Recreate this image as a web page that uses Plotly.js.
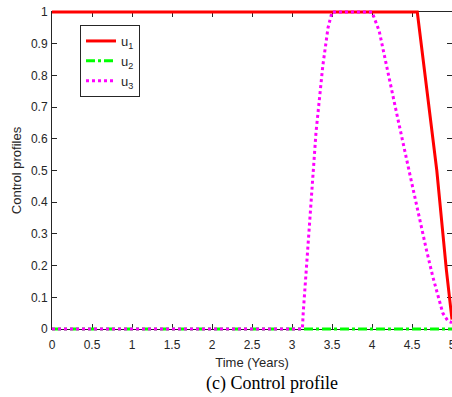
<!DOCTYPE html>
<html>
<head>
<meta charset="utf-8">
<script src="https://cdn.plot.ly/plotly-3.0.1.min.js"></script>
<style>
html,body{margin:0;padding:0;overflow:hidden;background:#fff;}
#chart{width:454px;height:397px;}
</style>
</head>
<body>
<div id="chart"></div>
<script>
// Data
const tU1 = [0, 4.566, 4.81, 4.93, 5];
const u1  = [1, 1, 0.50, 0.186, 0.03];
const tU2 = [0, 5];
const u2  = [0, 0];
const tU3 = [0, 3.13, 3.14, 3.21, 3.30, 3.385, 3.45, 3.5, 4.0, 4.09, 4.22, 4.30, 4.48, 4.59, 4.68, 4.76, 4.885, 4.95, 5];
const u3  = [0, 0, 0.05, 0.30, 0.62, 0.83, 0.95, 1, 1, 0.94, 0.78, 0.69, 0.48, 0.35, 0.25, 0.165, 0.05, 0.025, 0.02];
const xTickVals = [0, 0.5, 1, 1.5, 2, 2.5, 3, 3.5, 4, 4.5, 5];
const xTickText = ['0','0.5','1','1.5','2','2.5','3','3.5','4','4.5','5'];
const yTickVals = [0, 0.1, 0.2, 0.3, 0.4, 0.5, 0.6, 0.7, 0.8, 0.9, 1];
const yTickText = ['0','0.1','0.2','0.3','0.4','0.5','0.6','0.7','0.8','0.9','1'];
const seriesNames = ['u<sub>1</sub>', 'u<sub>2</sub>', 'u<sub>3</sub>'];

const W = 454, H = 397;
const mL = 40, mR = 0, mT = 4, mB = 60;
const pw = W - mL - mR, ph = H - mT - mB;
// main axes box in pixels
const bx0 = 52, bx1 = 452, by0 = 12, by1 = 329;
const pxPerX = (bx1 - bx0) / 5, pxPerY = (by1 - by0) / 1;

const axCol = '#262626';
const font = 'Liberation Sans, Arial, Helvetica, sans-serif';

const traces = [
  // empty trace so the framed axes subplot is drawn
  {x: [], y: [], mode: 'lines', xaxis: 'x', yaxis: 'y', showlegend: false, hoverinfo: 'skip'},
  {x: tU1, y: u1, name: seriesNames[0], mode: 'lines', xaxis: 'x2', yaxis: 'y2',
   line: {color: '#ff0000', width: 3}},
  {x: tU2, y: u2, name: seriesNames[1], mode: 'lines', xaxis: 'x2', yaxis: 'y2',
   line: {color: '#00ff00', width: 3, dash: 'dashdot'}},
  {x: tU3, y: u3, name: seriesNames[2], mode: 'lines', xaxis: 'x2', yaxis: 'y2',
   line: {color: '#ff00ff', width: 3, dash: 'dot'}}
];

const layout = {
  width: W, height: H,
  margin: {l: mL, r: mR, t: mT, b: mB, pad: 0},
  paper_bgcolor: '#ffffff', plot_bgcolor: 'rgba(0,0,0,0)',
  font: {family: font, color: axCol, size: 12},
  showlegend: true,
  legend: {
    x: (80 - mL) / pw, y: (H - mB - 25) / ph, xanchor: 'left', yanchor: 'top',
    bordercolor: axCol, borderwidth: 1, bgcolor: '#ffffff',
    font: {family: font, size: 13, color: axCol},
    tracegroupgap: 0, itemwidth: 30
  },
  xaxis: {
    domain: [(bx0 - mL) / pw, (bx1 - mL) / pw], anchor: 'y',
    range: [0, 5], tickvals: xTickVals, ticktext: xTickText,
    showline: true, linecolor: axCol, linewidth: 1, mirror: 'ticks',
    ticks: 'inside', ticklen: 5, tickcolor: axCol, tickwidth: 1,
    ticklabelstandoff: 5, ticklabeloverflow: 'allow',
    showgrid: false, zeroline: false,
    tickfont: {family: font, size: 12, color: axCol},
    title: {text: 'Time (Years)', font: {family: font, size: 13, color: axCol}, standoff: 6}
  },
  yaxis: {
    domain: [(H - mB - by1) / ph, (H - mB - by0) / ph], anchor: 'x',
    range: [0, 1], tickvals: yTickVals, ticktext: yTickText,
    showline: true, linecolor: axCol, linewidth: 1, mirror: 'ticks',
    ticks: 'inside', ticklen: 5, tickcolor: axCol, tickwidth: 1,
    ticklabelstandoff: 1, ticklabeloverflow: 'allow',
    showgrid: false, zeroline: false,
    tickfont: {family: font, size: 12, color: axCol},
    title: {text: 'Control profiles', font: {family: font, size: 13, color: axCol}, standoff: 6}
  },
  xaxis2: {
    domain: [0, 1], anchor: 'y2', visible: false,
    range: [0 - (bx0 - mL) / pxPerX, 5 + (W - mR - bx1) / pxPerX]
  },
  yaxis2: {
    domain: [0, 1], anchor: 'x2', visible: false,
    range: [0 - (H - mB - by1) / pxPerY, 1 + (by0 - mT) / pxPerY]
  },
  annotations: [{
    text: '(c) Control profile', xref: 'paper', yref: 'paper',
    x: (272 - mL) / pw, y: (H - mB - 383) / ph, xanchor: 'center', yanchor: 'middle',
    showarrow: false, font: {family: 'Liberation Serif, Times New Roman, serif', size: 18, color: '#000000'}
  }]
};

Plotly.newPlot('chart', traces, layout, {displayModeBar: false, staticPlot: true});
</script>
</body>
</html>
